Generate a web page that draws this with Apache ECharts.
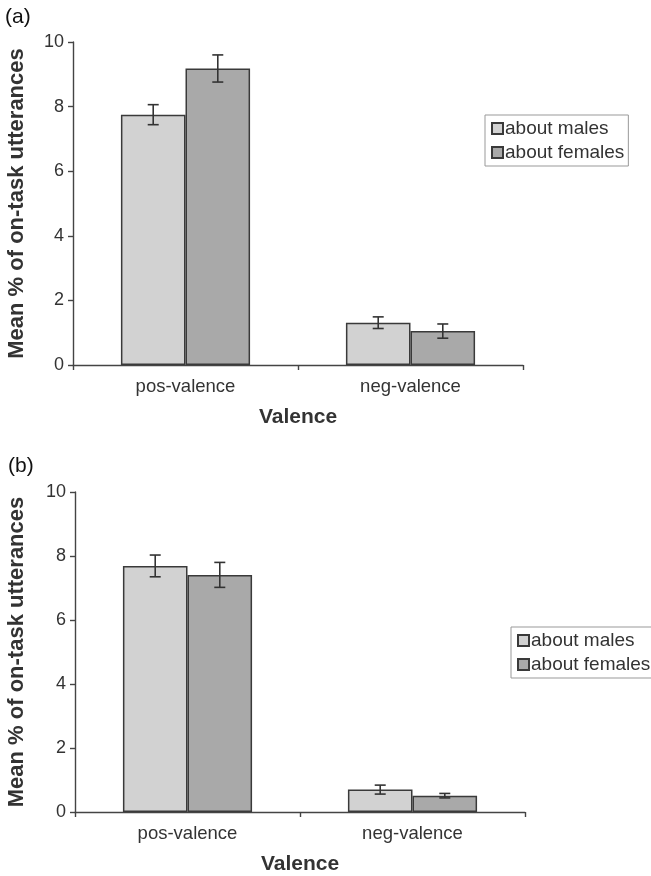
<!DOCTYPE html>
<html>
<head>
<meta charset="utf-8">
<script src="https://cdn.jsdelivr.net/npm/echarts@6/dist/echarts.min.js"></script>
<style>
html,body{margin:0;padding:0;background:#fff;}
#chart{width:651px;height:876px;}
</style>
</head>
<body>
<div id="chart"></div>
<script>
// ---- data ----
const categories = ['pos-valence', 'neg-valence'];
const seriesNames = ['about males', 'about females'];
const yTicks = [0, 2, 4, 6, 8, 10];
// panel (a)
const aMales = [7.75, 1.31];
const aMalesErr = [0.31, 0.18];
const aFemales = [9.18, 1.05];
const aFemalesErr = [0.42, 0.22];
// panel (b)
const bMales = [7.69, 0.70];
const bMalesErr = [0.34, 0.14];
const bFemales = [7.41, 0.51];
const bFemalesErr = [0.39, 0.07];

const FONT = '"Liberation Sans", Arial, Helvetica, sans-serif';
const TXT = '#333';
const maleColor = '#d2d2d2';
const femaleColor = '#a9a9a9';
const BAR_FRAC = 0.287;

const chart = echarts.init(document.getElementById('chart'), null, {renderer: 'canvas'});

function errSeries(name, vals, errs, gi, sign) {
  return {
    type: 'custom',
    name: name + ' err',
    xAxisIndex: gi, yAxisIndex: gi,
    z: 5,
    data: vals.map((v, i) => [i, v - errs[i], v + errs[i]]),
    renderItem: function (params, api) {
      const band = api.size([1, 0])[0];
      const off = sign * band * BAR_FRAC / 2;
      const lo = api.coord([api.value(0), api.value(1)]);
      const hi = api.coord([api.value(0), api.value(2)]);
      const x = lo[0] + off;
      const hw = 5.5;
      const st = {stroke: '#333', lineWidth: 1.6};
      return {
        type: 'group',
        children: [
          {type: 'line', shape: {x1: x, y1: lo[1], x2: x, y2: hi[1]}, style: st},
          {type: 'line', shape: {x1: x - hw, y1: lo[1], x2: x + hw, y2: lo[1]}, style: st},
          {type: 'line', shape: {x1: x - hw, y1: hi[1], x2: x + hw, y2: hi[1]}, style: st}
        ]
      };
    },
    silent: true
  };
}

function barSeries(name, vals, gi, color) {
  return {
    type: 'bar',
    name: name,
    xAxisIndex: gi, yAxisIndex: gi,
    data: vals,
    barWidth: (BAR_FRAC * 100) + '%',
    barGap: '0%',
    itemStyle: {color: color, borderColor: '#3a3a3a', borderWidth: 1.5},
    emphasis: {disabled: true}
  };
}

function xAxis(gi) {
  return {
    type: 'category', gridIndex: gi, data: categories,
    name: 'Valence', nameLocation: 'middle', nameGap: 42,
    nameTextStyle: {fontFamily: FONT, fontSize: 21, fontWeight: 'bold', color: TXT},
    axisLine: {lineStyle: {color: '#444', width: 1.4}},
    axisTick: {show: true, length: 5, lineStyle: {color: '#444', width: 1.4}},
    axisLabel: {fontFamily: FONT, fontSize: 18.5, color: TXT, margin: 12}
  };
}
function yAxis(gi, gap) {
  return {
    type: 'value', gridIndex: gi, min: 0, max: 10, interval: 2,
    name: 'Mean % of on-task utterances', nameLocation: 'middle', nameGap: gap,
    nameRotate: 90,
    nameTextStyle: {fontFamily: FONT, fontSize: 22, fontWeight: 'bold', color: TXT},
    axisLine: {show: true, lineStyle: {color: '#444', width: 1.4}},
    axisTick: {show: true, length: 5, lineStyle: {color: '#444', width: 1.4}},
    splitLine: {show: false},
    axisLabel: {fontFamily: FONT, fontSize: 18, color: TXT, margin: 9,
      formatter: v => yTicks.indexOf(v) >= 0 ? String(v) : ''}
  };
}

function legend(left, top) {
  return {
    show: true, orient: 'vertical', left: left, top: top,
    data: seriesNames.map(n => ({name: n, icon: 'rect'})),
    itemWidth: 11, itemHeight: 11, itemGap: 5,
    padding: [4, 4, 4, 6],
    borderColor: '#999', borderWidth: 1,
    textStyle: {fontFamily: FONT, fontSize: 19, color: TXT, padding: [0, 0, 0, -3]},
    selectedMode: false
  };
}

const option = {
  backgroundColor: '#fff',
  animation: false,
  grid: [
    {left: 73, top: 42, width: 450, height: 323, containLabel: false, outerBoundsMode: 'none'},
    {left: 75, top: 492, width: 450, height: 320, containLabel: false, outerBoundsMode: 'none'}
  ],
  xAxis: [xAxis(0), xAxis(1)],
  yAxis: [yAxis(0, 45), yAxis(1, 47)],
  legend: [legend(485, 115), legend(511, 627)],
  graphic: [
    {type: 'text', left: 5, top: 7, style: {text: '(a)', fontFamily: FONT, fontSize: 21, fill: '#111'}},
    {type: 'text', left: 8, top: 456, style: {text: '(b)', fontFamily: FONT, fontSize: 21, fill: '#111'}}
  ],
  series: [
    barSeries(seriesNames[0], aMales, 0, maleColor),
    barSeries(seriesNames[1], aFemales, 0, femaleColor),
    errSeries(seriesNames[0], aMales, aMalesErr, 0, -1),
    errSeries(seriesNames[1], aFemales, aFemalesErr, 0, 1),
    barSeries(seriesNames[0], bMales, 1, maleColor),
    barSeries(seriesNames[1], bFemales, 1, femaleColor),
    errSeries(seriesNames[0], bMales, bMalesErr, 1, -1),
    errSeries(seriesNames[1], bFemales, bFemalesErr, 1, 1)
  ]
};
chart.setOption(option);
</script>
</body>
</html>
